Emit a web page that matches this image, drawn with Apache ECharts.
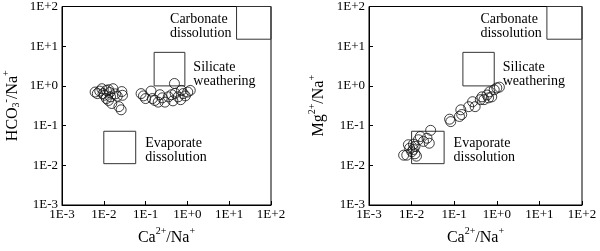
<!DOCTYPE html>
<html>
<head>
<meta charset="utf-8">
<script src="https://cdn.jsdelivr.net/npm/echarts@6/dist/echarts.min.js"></script>
<style>
html, body { margin: 0; padding: 0; background: #fff; }
#chart { width: 600px; height: 251px; }
</style>
</head>
<body>
<div id="chart"></div>
<script>
// tick labels for the log axes (1E-3 .. 1E+2)
const tickLabels = ['1E-3', '1E-2', '1E-1', '1E+0', '1E+1', '1E+2']

// left plot: Ca/Na vs HCO3/Na
const caLeft = [0.0062, 0.0070, 0.0080, 0.0090, 0.0096, 0.0103, 0.0115, 0.0115, 0.0129, 0.0130,
    0.0138, 0.0145, 0.0155, 0.0166, 0.0190, 0.0210, 0.0230, 0.0260, 0.0270, 0.0280,
    0.078, 0.089, 0.100, 0.135, 0.145, 0.166, 0.200, 0.220, 0.250, 0.290,
    0.350, 0.420, 0.450, 0.490, 0.510, 0.600, 0.690, 0.720, 0.790, 0.890, 1.020, 1.170]
const hco3 = [0.70, 0.64, 0.74, 0.85, 0.64, 0.58, 0.77, 0.48, 0.43, 0.80,
    0.68, 0.53, 0.36, 0.85, 0.63, 0.55, 0.30, 0.25, 0.72, 0.58,
    0.64, 0.56, 0.48, 0.74, 0.48, 0.43, 0.39, 0.60, 0.50, 0.39,
    0.53, 0.60, 0.42, 1.15, 0.65, 0.53, 0.45, 0.77, 0.64, 0.56, 0.70, 0.77]

// right plot: Ca/Na vs Mg/Na
const caRight = [0.0065, 0.0077, 0.0084, 0.0090, 0.0101, 0.0110, 0.0110, 0.0120, 0.0120, 0.0130,
    0.0145, 0.0160, 0.0190, 0.0230, 0.0260, 0.0280,
    0.078, 0.083, 0.133, 0.143, 0.150, 0.220, 0.270, 0.310, 0.410, 0.450,
    0.500, 0.590, 0.640, 0.680, 0.760, 0.870, 1.000, 1.150]
const mg = [0.018, 0.018, 0.033, 0.027, 0.022, 0.025, 0.034, 0.0195, 0.030, 0.017,
    0.044, 0.053, 0.040, 0.048, 0.036, 0.076,
    0.145, 0.126, 0.17, 0.25, 0.19, 0.30, 0.40, 0.30, 0.45, 0.53,
    0.45, 0.59, 0.50, 0.71, 0.53, 0.80, 0.89, 0.93]

// end-member boxes [xMin, xMax, yMin, yMax]
const carbonateBox = [15, 100, 15, 100]
const silicateBox = [0.16, 0.87, 1, 7]
const evaporateBox = [0.01, 0.058, 0.011, 0.072]

const chart = echarts.init(document.getElementById('chart'), null, {renderer: 'canvas'})
const serif = '"Liberation Serif", serif'

function tickFmt(v) {
    const e = Math.round(Math.log10(v))
    return tickLabels[e + 3]
}

const nameRich = {
    n: {fontFamily: serif, fontSize: 16, color: '#000', lineHeight: 20, verticalAlign: 'bottom'},
    sup: {fontFamily: serif, fontSize: 10, color: '#000', lineHeight: 20, verticalAlign: 'top'},
    sub: {fontFamily: serif, fontSize: 10, color: '#000', lineHeight: 20, verticalAlign: 'bottom'}
}

function xAxis(idx) {
    return {
        type: 'log', logBase: 10, gridIndex: idx, min: 0.001, max: 100, splitNumber: 5,
        name: '{n|Ca}{sup|2+}{n|/Na}{sup|+}', nameLocation: 'middle', nameGap: 21,
        nameTextStyle: {rich: nameRich},
        axisLine: {show: true, lineStyle: {color: '#000', width: 1}},
        axisTick: {show: true, inside: true, length: 4, lineStyle: {color: '#000'}},
        minorTick: {show: false},
        splitLine: {show: false},
        axisLabel: {color: '#000', fontFamily: serif, fontSize: 13, margin: 3, formatter: tickFmt}
    }
}

function yAxis(idx, name, gap) {
    return {
        type: 'log', logBase: 10, gridIndex: idx, min: 0.001, max: 100, splitNumber: 5,
        name: name, nameLocation: 'middle', nameGap: gap, nameRotate: 90,
        nameTextStyle: {rich: nameRich},
        axisLine: {show: true, lineStyle: {color: '#000', width: 1}},
        axisTick: {show: true, inside: true, length: 4, lineStyle: {color: '#000'}},
        splitLine: {show: false},
        axisLabel: {color: '#000', fontFamily: serif, fontSize: 13, margin: 4, formatter: tickFmt}
    }
}

function boxLabel(text, pos, offset) {
    return {
        show: true, position: pos, offset: offset, formatter: text,
        align: 'left', verticalAlign: 'top',
        color: '#000', fontFamily: serif, fontSize: 14, lineHeight: 14
    }
}

function boxes() {
    const area = (b, label) => [
        {xAxis: b[0], yAxis: b[2], label: label},
        {xAxis: b[1], yAxis: b[3]}
    ]
    return {
        silent: true,
        itemStyle: {color: 'rgba(0,0,0,0)', borderColor: '#333', borderWidth: 1},
        data: [
            area(carbonateBox, boxLabel('Carbonate\ndissolution', [0, 6], [-66, 0])),
            area(silicateBox, boxLabel('Silicate\nweathering', ['100%', 8], [8, 0])),
            area(evaporateBox, boxLabel('Evaporate\ndissolution', ['100%', 6], [9, 0]))
        ]
    }
}

function scatter(idx, xs, ys) {
    return {
        type: 'scatter', xAxisIndex: idx, yAxisIndex: idx,
        symbol: 'circle', symbolSize: 10,
        itemStyle: {color: 'rgba(0,0,0,0)', borderColor: '#111', borderWidth: 1},
        data: xs.map((x, i) => [x, ys[i]]),
        markArea: boxes()
    }
}

const option = {
    animation: false,
    backgroundColor: '#fff',
    grid: [
        {left: 59, top: 5, width: 212, height: 208, show: true, borderColor: '#000', borderWidth: 1, backgroundColor: 'transparent'},
        {left: 369, top: 5, width: 213, height: 208, show: true, borderColor: '#000', borderWidth: 1, backgroundColor: 'transparent'}
    ],
    xAxis: [xAxis(0), xAxis(1)],
    yAxis: [
        yAxis(0, '{n|HCO}{sub|3}{sup|-}{n|/Na}{sup|+}', 41),
        yAxis(1, '{n|Mg}{sup|2+}{n|/Na}{sup|+}', 42)
    ],
    series: [scatter(0, caLeft, hco3), scatter(1, caRight, mg)]
}
chart.setOption(option)
</script>
</body>
</html>
